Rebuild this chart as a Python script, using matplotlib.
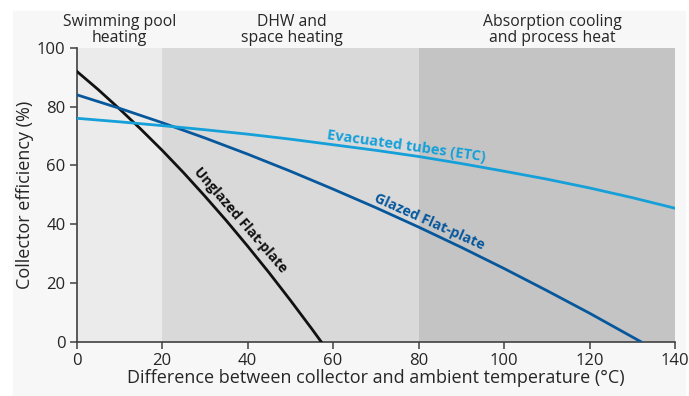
import matplotlib.pyplot as plt
from matplotlib.patches import Rectangle

plt.rcParams['font.family'] = ['Open Sans', 'DejaVu Sans']

# 读图得到的曲线数据
unglazed_x = [0, 5, 10, 15, 20, 25, 30, 35, 40, 45, 50, 55, 57.2]
unglazed_y = [92, 85.8, 79.2, 72.3, 65.1, 57.5, 49.5, 41.2, 32.5, 23.5, 14.1, 4.4, 0]

glazed_x = [0, 10, 20, 30, 40, 50, 60, 70, 80, 90, 100, 110, 120, 132]
glazed_y = [84, 79.4, 74.5, 69.3, 63.8, 58, 51.9, 45.6, 39, 32.1, 24.9, 17.4, 9.7, 0]

etc_x = [0, 10, 20, 30, 40, 50, 60, 70, 80, 90, 100, 110, 120, 130, 140]
etc_y = [76, 74.8, 73.5, 72.1, 70.6, 68.9, 67, 65.1, 63, 60.6, 58, 55.3, 52.3, 49, 45.4]

# 应用区间
zone_edges = [0, 20, 80, 140]
zone_colors = ['#ebebeb', '#d9d9d9', '#c4c4c4']
zone_names = ['Swimming pool\nheating', 'DHW and\nspace heating',
              'Absorption cooling\nand process heat']
zone_label_x = [10, 50.3, 111.3]

fig = plt.figure(figsize=(6.89, 3.96), dpi=100, facecolor='white')
fig.patches.append(Rectangle((13 / 689, 0), 672 / 689, 385 / 396,
                             transform=fig.transFigure, color='#f7f7f7', zorder=-10))
ax = fig.add_axes([0.1113, 0.1371, 0.8684, 0.7424])
ax.set_facecolor('none')

for i in range(3):
    ax.axvspan(zone_edges[i], zone_edges[i + 1], color=zone_colors[i], lw=0, zorder=0)
    ax.text(zone_label_x[i], 100.7, zone_names[i], ha='center', va='bottom',
            fontsize=11.3, color='#262626', linespacing=0.98)

ax.plot(unglazed_x, unglazed_y, color='#111111', lw=2.0, zorder=3)
ax.plot(glazed_x, glazed_y, color='#07579c', lw=2.0, zorder=3)
ax.plot(etc_x, etc_y, color='#15a0d9', lw=2.0, zorder=3)

ax.text(38.2, 41.4, 'Unglazed Flat-plate', rotation=-49, ha='center', va='center',
        fontsize=10, fontweight='bold', color='#111111', rotation_mode='anchor')
ax.text(82.6, 40.7, 'Glazed Flat-plate', rotation=-24, ha='center', va='center',
        fontsize=10.2, fontweight='bold', color='#07579c', rotation_mode='anchor')
ax.text(77.2, 66.4, 'Evacuated tubes (ETC)', rotation=-8, ha='center', va='center',
        fontsize=10.5, fontweight='bold', color='#15a0d9', rotation_mode='anchor')

ax.set_xlim(0, 140)
ax.set_ylim(0, 100)
ax.set_xticks(range(0, 141, 20))
ax.set_yticks(range(0, 101, 20))
for s in ['top', 'right']:
    ax.spines[s].set_visible(False)
for s in ['left', 'bottom']:
    ax.spines[s].set_color('#404040')
    ax.spines[s].set_linewidth(1.2)
ax.tick_params(direction='out', length=5, width=1.1, color='#404040',
               labelsize=12, labelcolor='#262626', pad=3)
ax.set_xlabel('Difference between collector and ambient temperature (°C)',
              fontsize=13, color='#262626', labelpad=0)
ax.set_ylabel('Collector efficiency (%)', fontsize=13, color='#262626', labelpad=2)

fig.savefig('out.png', dpi=100, facecolor=fig.get_facecolor())
